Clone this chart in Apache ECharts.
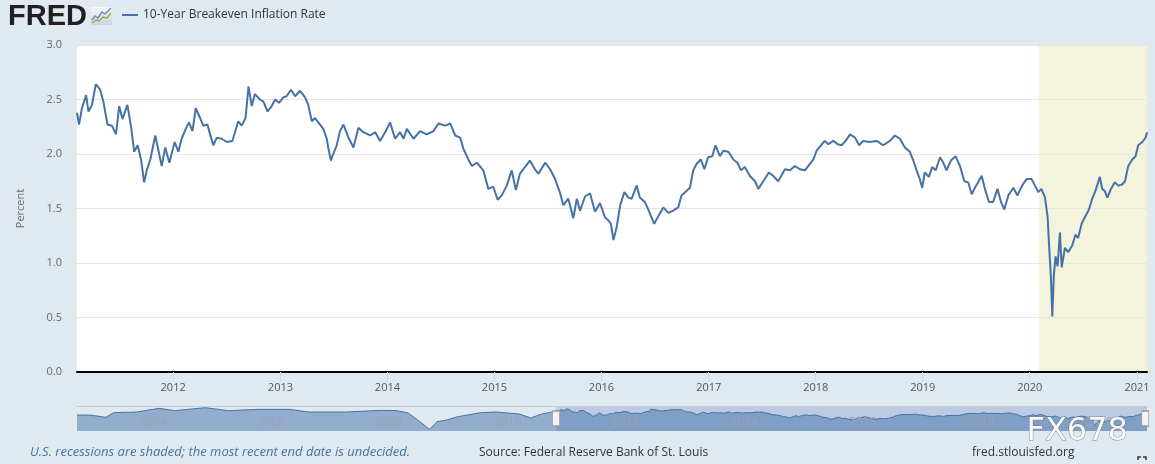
<!DOCTYPE html>
<html><head><meta charset="utf-8">
<script src="https://cdn.jsdelivr.net/npm/echarts@6/dist/echarts.min.js"></script>
<style>html,body{margin:0;padding:0;background:#e1e9f0;}#c{width:1155px;height:464px;}</style>
</head><body><div id="c"></div>
<script>
const seriesName = '10-Year Breakeven Inflation Rate';
const xMin = '2011-02-07';
const xMax = '2021-02-04';
const recessionStart = '2020-02-01';
const yTicks = [0, 0.5, 1.0, 1.5, 2.0, 2.5, 3.0];

const dates = [
'2011-02-07','2011-02-14','2011-02-23','2011-03-10','2011-03-18','2011-03-30','2011-04-12','2011-04-27','2011-05-08','2011-05-22',
'2011-06-06','2011-06-20','2011-07-01','2011-07-12','2011-07-29','2011-08-11','2011-08-21','2011-09-02','2011-09-14','2011-09-24',
'2011-10-03','2011-10-15','2011-11-01','2011-11-12','2011-11-23','2011-12-05','2011-12-19','2012-01-06','2012-01-19','2012-01-30',
'2012-02-13','2012-02-24','2012-03-07','2012-03-18','2012-04-02','2012-04-13','2012-04-27','2012-05-06','2012-05-17','2012-05-29',
'2012-06-15','2012-07-02','2012-07-21','2012-07-30','2012-08-10','2012-08-22','2012-09-04','2012-09-14','2012-09-25','2012-10-06',
'2012-10-23','2012-11-04','2012-11-18','2012-12-02','2012-12-14','2012-12-27','2013-01-11','2013-01-22','2013-02-06','2013-02-20',
'2013-03-09','2013-03-26','2013-04-06','2013-04-18','2013-04-29','2013-05-16','2013-05-27','2013-06-08','2013-06-13','2013-06-22',
'2013-06-30','2013-07-12','2013-07-23','2013-08-04','2013-08-21','2013-09-07','2013-09-24','2013-10-11','2013-11-03','2013-11-20',
'2013-12-07','2013-12-24','2014-01-10','2014-01-27','2014-02-13','2014-02-25','2014-03-08','2014-03-31','2014-04-22','2014-05-15',
'2014-06-07','2014-06-24','2014-07-17','2014-08-03','2014-08-20','2014-09-06','2014-09-17','2014-10-04','2014-10-16','2014-11-02',
'2014-11-24','2014-12-11','2014-12-28','2015-01-12','2015-01-26','2015-02-12','2015-03-01','2015-03-15','2015-03-29','2015-04-15',
'2015-05-02','2015-05-19','2015-05-31','2015-06-23','2015-07-10','2015-07-27','2015-08-13','2015-08-24','2015-09-10','2015-09-27',
'2015-10-09','2015-10-20','2015-11-06','2015-11-23','2015-12-10','2015-12-27','2016-01-13','2016-01-25','2016-02-02','2016-02-11',
'2016-02-22','2016-03-05','2016-03-19','2016-04-02','2016-04-13','2016-04-30','2016-05-11','2016-05-28','2016-06-09','2016-06-18',
'2016-06-29','2016-07-13','2016-07-30','2016-08-16','2016-09-02','2016-09-19','2016-09-30','2016-10-17','2016-10-29','2016-11-09',
'2016-11-21','2016-12-05','2016-12-17','2016-12-30','2017-01-13','2017-01-24','2017-02-08','2017-02-20','2017-03-09','2017-03-26',
'2017-04-09','2017-04-21','2017-05-04','2017-05-21','2017-06-08','2017-06-19','2017-07-06','2017-07-25','2017-08-09','2017-08-26',
'2017-09-18','2017-10-05','2017-10-22','2017-11-08','2017-11-25','2017-12-12','2017-12-24','2018-01-04','2018-01-19','2018-02-01',
'2018-02-13','2018-03-02','2018-03-17','2018-03-30','2018-04-13','2018-04-28','2018-05-15','2018-05-29','2018-06-12','2018-07-05',
'2018-07-28','2018-08-19','2018-09-11','2018-09-28','2018-10-15','2018-11-01','2018-11-18','2018-11-30','2018-12-11','2018-12-22',
'2018-12-30','2019-01-08','2019-01-22','2019-02-02','2019-02-14','2019-03-01','2019-03-12','2019-03-23','2019-04-07','2019-04-23',
'2019-05-08','2019-05-23','2019-06-05','2019-06-17','2019-06-28','2019-07-09','2019-07-21','2019-08-01','2019-08-15','2019-08-29',
'2019-09-13','2019-09-25','2019-10-06','2019-10-20','2019-11-06','2019-11-20','2019-12-06','2019-12-21','2020-01-07','2020-01-19',
'2020-01-30','2020-02-10','2020-02-22','2020-03-02','2020-03-07','2020-03-13','2020-03-18','2020-03-23','2020-03-29','2020-04-05',
'2020-04-13','2020-04-19','2020-04-30','2020-05-11','2020-05-25','2020-06-05','2020-06-14','2020-06-26','2020-07-07','2020-07-21',
'2020-08-01','2020-08-12','2020-08-27','2020-09-04','2020-09-13','2020-09-22','2020-10-04','2020-10-17','2020-10-29','2020-11-11',
'2020-11-21','2020-12-02','2020-12-16','2020-12-27','2021-01-05','2021-01-19','2021-01-30','2021-02-04'
];
const values = [
2.38,2.27,2.41,2.54,2.39,2.45,2.64,2.59,2.48,2.27,
2.26,2.18,2.44,2.32,2.45,2.24,2.02,2.08,1.94,1.74,
1.85,1.95,2.17,2.03,1.89,2.06,1.92,2.11,2.02,2.14,
2.23,2.29,2.21,2.42,2.33,2.26,2.27,2.18,2.08,2.15,
2.14,2.11,2.12,2.20,2.30,2.26,2.33,2.62,2.44,2.55,
2.50,2.48,2.39,2.44,2.50,2.47,2.52,2.53,2.59,2.53,
2.58,2.52,2.45,2.30,2.33,2.27,2.23,2.14,2.06,1.94,
2.00,2.08,2.21,2.27,2.15,2.06,2.24,2.20,2.17,2.20,
2.12,2.20,2.29,2.14,2.20,2.14,2.23,2.14,2.21,2.18,
2.21,2.28,2.26,2.28,2.17,2.15,2.05,1.95,1.89,1.92,
1.85,1.68,1.70,1.58,1.62,1.71,1.85,1.67,1.82,1.88,
1.94,1.86,1.82,1.92,1.86,1.77,1.64,1.53,1.59,1.41,
1.59,1.48,1.61,1.64,1.47,1.55,1.42,1.39,1.36,1.21,
1.33,1.53,1.65,1.60,1.59,1.71,1.60,1.56,1.49,1.43,
1.36,1.43,1.51,1.46,1.48,1.51,1.62,1.66,1.69,1.85,
1.91,1.95,1.86,1.97,1.98,2.08,1.98,2.03,2.02,1.95,
1.92,1.85,1.88,1.80,1.75,1.68,1.75,1.83,1.80,1.75,
1.86,1.85,1.89,1.86,1.85,1.91,1.95,2.03,2.08,2.12,
2.09,2.12,2.09,2.08,2.12,2.18,2.15,2.08,2.12,2.11,
2.12,2.08,2.12,2.17,2.14,2.06,2.02,1.94,1.85,1.77,
1.69,1.83,1.79,1.88,1.85,1.97,1.92,1.85,1.94,1.98,
1.89,1.75,1.74,1.63,1.69,1.74,1.80,1.68,1.56,1.56,
1.68,1.56,1.49,1.62,1.69,1.62,1.71,1.77,1.77,1.71,
1.65,1.68,1.60,1.42,1.16,0.88,0.51,0.88,1.06,0.97,
1.28,0.96,1.14,1.10,1.16,1.26,1.23,1.36,1.42,1.49,
1.59,1.66,1.79,1.68,1.66,1.60,1.68,1.74,1.71,1.72,
1.75,1.89,1.95,1.98,2.08,2.11,2.15,2.20
];

// navigator history (decimal years) before the visible window
const navHistYears = [2003.00,2003.23,2003.49,2003.62,2004.01,2004.39,2004.65,2005.17,2005.56,2006.08,2006.59,2006.92,2007.56,2008.15,2008.41,2008.60,2008.76,2008.96,2009.09,2009.25,2009.44,2009.83,2010.09,2010.48,2010.67,2010.86];
const navHistValues = [1.92,1.90,1.64,2.20,2.28,2.72,2.44,2.80,2.44,2.60,2.60,2.28,2.28,2.48,2.44,2.16,1.32,0.20,1.12,1.32,1.72,2.20,2.28,2.04,1.56,2.04];
const navStartYear = 2003;

function toYear(d) {
  const t = Date.parse(d + 'T00:00:00Z');
  const y = new Date(t).getUTCFullYear();
  const s = Date.UTC(y, 0, 1), e = Date.UTC(y + 1, 0, 1);
  return y + (t - s) / (e - s);
}

const mainData = dates.map((d, i) => [d, values[i]]);
const navData = navHistYears.map((y, i) => [y, navHistValues[i]])
  .concat(dates.map((d, i) => [toYear(d), values[i]]));
const navMax = toYear(xMax);
const selStart = toYear(xMin);
const FONT = 'Open Sans';
const YEAR = 365 * 86400000;

const chart = echarts.init(document.getElementById('c'), null, {renderer: 'canvas'});
chart.setOption({
  animation: false,
  backgroundColor: '#e1e9f0',
  textStyle: {fontFamily: FONT},
  legend: {
    left: 122, top: 9, padding: 0, icon: 'rect', itemWidth: 16, itemHeight: 2,
    textStyle: {color: '#333', fontSize: 12, fontFamily: FONT},
    data: [seriesName]
  },
  grid: [
    {left: 77, right: 8, top: 45, bottom: 92, show: true, backgroundColor: '#ffffff', borderWidth: 0},
    {left: 77, right: 8, top: 406, height: 25, show: false}
  ],
  xAxis: [
    {type: 'time', gridIndex: 0, min: xMin, max: xMax, z: 3,
     minInterval: YEAR, maxInterval: YEAR + 86400000,
     axisLine: {lineStyle: {color: '#000', width: 2}},
     axisTick: {show: true, length: 9, lineStyle: {color: '#ccd6eb'}},
     axisLabel: {formatter: '{yyyy}', color: '#555', fontSize: 11, margin: 10, fontFamily: FONT, hideOverlap: false},
     splitLine: {show: false}},
    {type: 'value', gridIndex: 1, min: navStartYear, max: navMax, interval: 1, z: 3,
     axisLine: {show: false}, axisTick: {show: false}, splitLine: {show: false},
     axisLabel: {inside: true, align: 'left', margin: 2, padding: [0, 0, 0, 3], color: '#97a4b6', fontSize: 12, fontFamily: FONT,
       formatter: v => (Math.round(v) % 2 === 0 ? String(Math.round(v)) : '')}},
    {type: 'value', gridIndex: 1, position: 'top', min: navStartYear, max: navMax, z: 3,
     axisLine: {show: true, lineStyle: {color: '#c5ced8', width: 1}},
     axisTick: {show: false}, axisLabel: {show: false}, splitLine: {show: false}}
  ],
  yAxis: [
    {type: 'value', gridIndex: 0, min: yTicks[0], max: yTicks[yTicks.length - 1], interval: yTicks[1] - yTicks[0], z: 1.5,
     name: 'Percent', nameLocation: 'middle', nameGap: 51, nameRotate: 90,
     nameTextStyle: {color: '#666', fontSize: 11, fontFamily: FONT},
     axisLabel: {formatter: v => v.toFixed(1), color: '#666', fontSize: 11, margin: 15, fontFamily: FONT},
     axisLine: {show: false}, axisTick: {show: false},
     splitLine: {lineStyle: {color: '#e6e6e6', width: 1}}},
    {type: 'value', gridIndex: 1, min: 0, max: 3, show: false}
  ],
  series: [
    {type: 'line', name: seriesName, xAxisIndex: 0, yAxisIndex: 0, data: mainData, z: 2,
     symbol: 'none', showSymbol: false,
     lineStyle: {color: '#4572a7', width: 2}, itemStyle: {color: '#4572a7'},
     markArea: {silent: true, itemStyle: {color: '#f4f4dc'},
       data: [[{xAxis: recessionStart}, {xAxis: xMax}]]}},
    {type: 'line', name: 'navigator', xAxisIndex: 1, yAxisIndex: 1, data: navData, z: 2,
     symbol: 'none', showSymbol: false,
     lineStyle: {color: '#4572a7', width: 1}, areaStyle: {color: '#4572a7', opacity: 0.5},
     markArea: {silent: true, itemStyle: {color: 'rgba(102,133,194,0.3)'},
       data: [[{xAxis: selStart}, {xAxis: navMax}]]},
     markPoint: {silent: true, symbol: 'rect', symbolSize: [7, 15], label: {show: false},
       itemStyle: {color: '#f2f2f2', borderColor: '#999', borderWidth: 1},
       data: [{coord: [selStart, 1.5]}, {coord: [navMax - 0.03, 1.5]}]}}
  ],
  graphic: [
    {type: 'text', left: 8, top: 2, style: {text: 'FRED', font: 'bold 29px "Liberation Sans"', fill: '#231f20'}},
    {type: 'rect', left: 91, top: 7, shape: {width: 21, height: 18},
     style: {fill: new echarts.graphic.LinearGradient(0, 0, 0, 1, [{offset: 0, color: '#f6f7f9'}, {offset: 1, color: '#cdd4db'}])}},
    {type: 'polyline', shape: {points: [[92, 20], [95, 16], [98, 18], [102, 12], [105, 14], [111, 8]]}, style: {stroke: '#6d8fc0', lineWidth: 1.5, fill: null}},
    {type: 'polyline', shape: {points: [[92, 23], [96, 20], [99, 21], [103, 17], [107, 18], [111, 13]]}, style: {stroke: '#8fb04c', lineWidth: 1.5, fill: null}},
    {type: 'text', left: 30, top: 446, style: {text: 'U.S. recessions are shaded; the most recent end date is undecided.', fill: '#4572a7', font: 'italic 13px "Open Sans"'}},
    {type: 'text', left: 479, top: 447, style: {text: 'Source: Federal Reserve Bank of St. Louis', fill: '#333', font: '12px "Open Sans"'}},
    {type: 'text', left: 972, top: 447, style: {text: 'fred.stlouisfed.org', fill: '#333', font: '12px "Open Sans"'}},
    {type: 'polyline', shape: {points: [[1138, 460], [1138, 457], [1141, 457]]}, style: {stroke: '#333', lineWidth: 1.5, fill: null}},
    {type: 'polyline', shape: {points: [[1143, 457], [1146, 457], [1146, 460]]}, style: {stroke: '#333', lineWidth: 1.5, fill: null}},
    {type: 'text', left: 1026, top: 415, z: 100, style: {text: 'FX678', font: '32px "DejaVu Sans"', fill: 'rgba(255,255,255,0.92)', stroke: 'rgba(110,110,110,0.75)', lineWidth: 1}}
  ]
});
</script>
</body></html>
